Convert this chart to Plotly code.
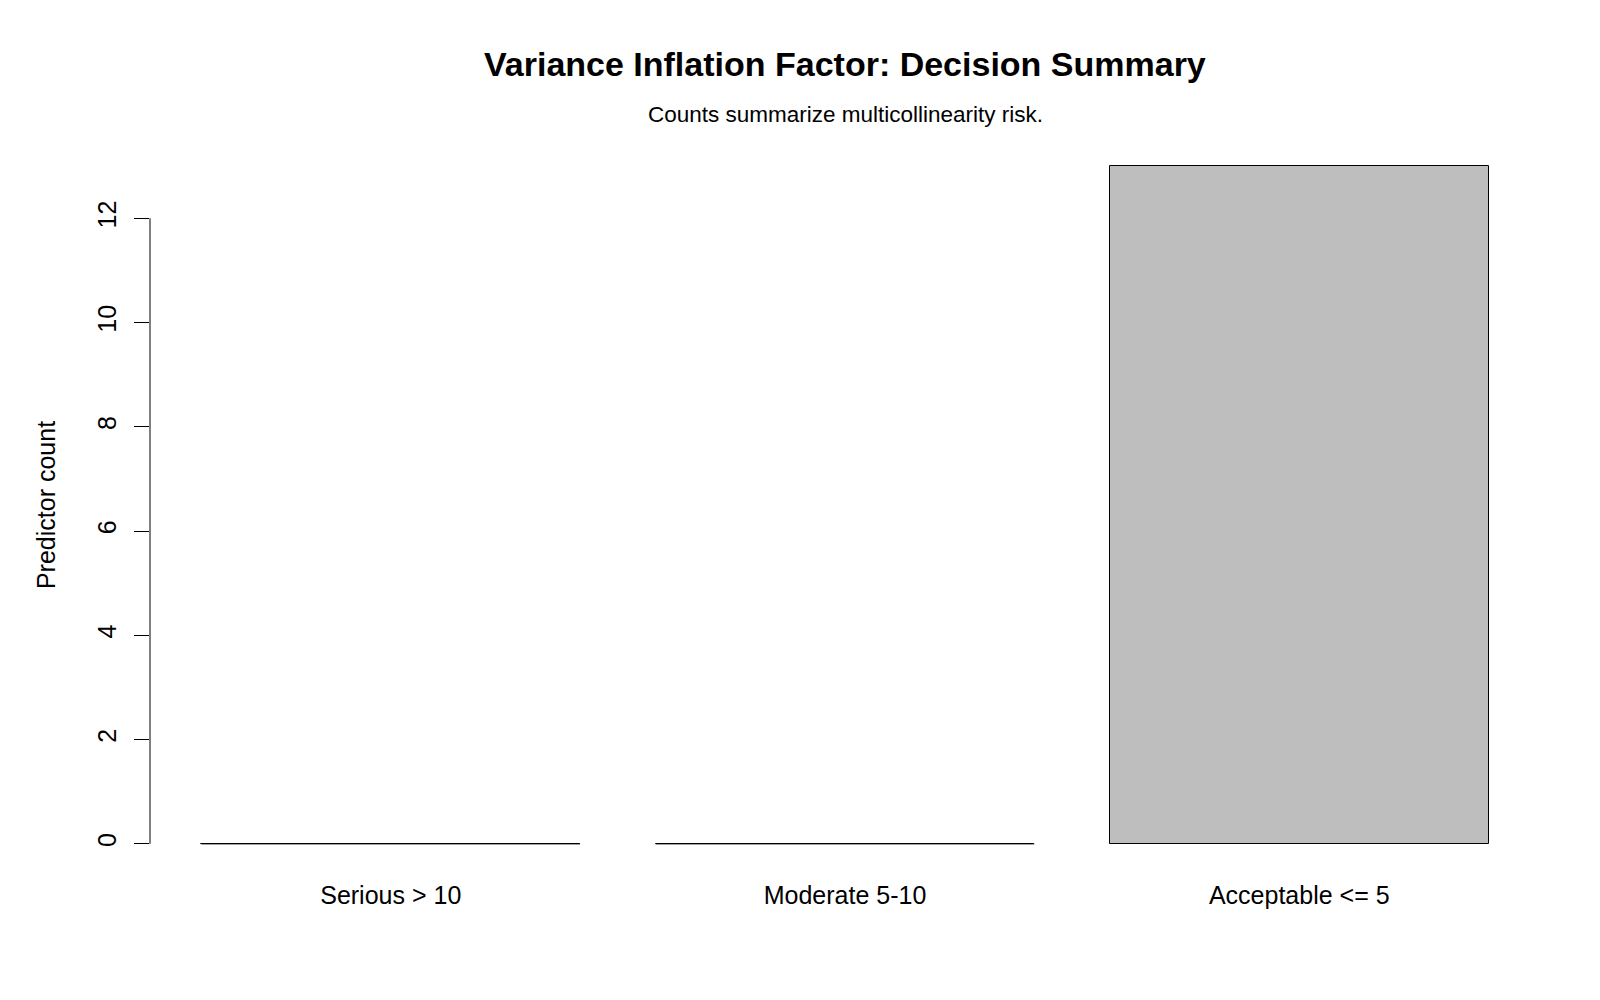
import plotly.graph_objects as go

categories = ["Serious > 10", "Moderate 5-10", "Acceptable <= 5"]
counts = [0, 0, 13]
y_ticks = [0, 2, 4, 6, 8, 10, 12]

title_text = "Variance Inflation Factor: Decision Summary"
subtitle_text = "Counts summarize multicollinearity risk."
y_label = "Predictor count"

FONT = "Liberation Sans, Arial, sans-serif"
bar_w = 1 / 1.2
xpos = list(range(len(categories)))

fig = go.Figure()
fig.add_trace(go.Bar(
    x=xpos, y=counts, width=bar_w,
    marker=dict(color="#BEBEBE", line=dict(color="black", width=1)),
    showlegend=False, hoverinfo="x+y",
))

# zero-height bars are drawn by R as flat outlines
zx, zy = [], []
for i, v in zip(xpos, counts):
    if v == 0:
        zx += [i - bar_w / 2, i + bar_w / 2, None]
        zy += [0, 0, None]
fig.add_trace(go.Scatter(x=zx, y=zy, mode="lines",
                         line=dict(color="black", width=1),
                         showlegend=False, hoverinfo="skip"))

ymax = max(counts)
fig.update_layout(
    width=1600, height=1000,
    margin=dict(l=150, r=60, t=139, b=129),
    plot_bgcolor="white", paper_bgcolor="white",
    font=dict(family=FONT, color="black", size=25),
    bargap=0,
    xaxis=dict(range=[-0.53, 2.53], tickvals=xpos, ticktext=categories,
               showgrid=False, zeroline=False, showline=False, ticks="",
               tickfont=dict(size=25), ticklabelstandoff=7),
    yaxis=dict(range=[-0.04 * ymax, 1.04 * ymax], tickvals=y_ticks,
               showgrid=False, zeroline=False, showline=False,
               ticks="outside", ticklen=15, tickcolor="black", tickwidth=1,
               tickangle=-90, tickfont=dict(size=25), ticklabelstandoff=8,
               title=dict(text=y_label, font=dict(size=25), standoff=30)),
    shapes=[dict(type="line", xref="paper", x0=0, x1=0, yref="y",
                 y0=min(y_ticks), y1=max(y_ticks),
                 line=dict(color="black", width=1))],
    annotations=[
        dict(text="<b>" + title_text + "</b>", xref="paper", yref="paper",
             x=0.5, y=1.1025, xanchor="center", yanchor="middle",
             showarrow=False, font=dict(size=34)),
        dict(text=subtitle_text, xref="paper", yref="paper",
             x=0.5, y=1.0328, xanchor="center", yanchor="middle",
             showarrow=False, font=dict(size=22.5)),
    ],
)

fig.write_html("out.html")
